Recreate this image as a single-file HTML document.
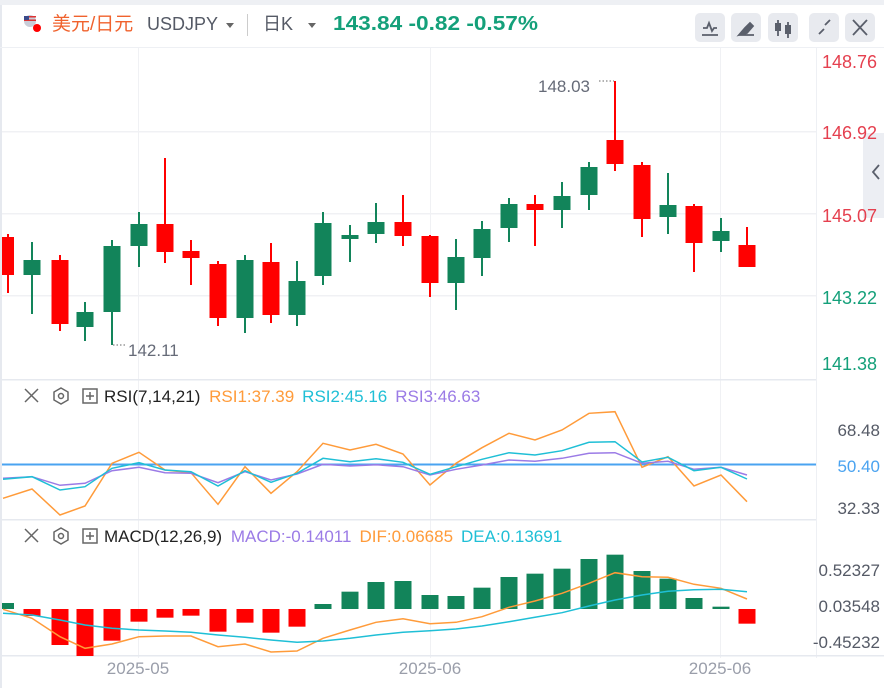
<!DOCTYPE html>
<html><head><meta charset="utf-8"><style>
html,body{margin:0;padding:0;background:#fff;width:884px;height:688px;overflow:hidden;font-family:"Liberation Sans","Noto Sans CJK SC",sans-serif}
svg{position:absolute;left:0;top:0}
</style></head><body>
<svg id="s" width="884" height="688" xmlns="http://www.w3.org/2000/svg" font-family="Liberation Sans, Noto Sans CJK SC, sans-serif">
<rect x="0" y="0" width="884" height="5" fill="#eef0f4"/>
<rect x="0" y="5" width="2" height="683" fill="#e6e9ef"/>
<!-- header -->
<circle cx="30" cy="21" r="6" fill="#c9cdd8"/><rect x="24" y="16" width="12" height="1.5" fill="#d33"/><rect x="24" y="19.5" width="12" height="1.5" fill="#d33"/><rect x="24" y="16" width="5" height="4" fill="#3a4a8a"/>
<circle cx="37" cy="28" r="4" fill="#f00"/>
<text x="52" y="30" font-size="19" fill="#f0622d">美元/日元</text>
<text x="147" y="30" font-size="18" fill="#555a66">USDJPY</text>
<path d="M226 23 L234 23 L230 28Z" fill="#666"/>
<rect x="247" y="14" width="1" height="22" fill="#ccc"/>
<text x="263" y="30" font-size="18" fill="#555a66">日K</text>
<path d="M308 23 L316 23 L312 28Z" fill="#666"/>
<text x="333" y="30" font-size="20" font-weight="bold" fill="#14a07a" textLength="205" lengthAdjust="spacingAndGlyphs">143.84  -0.82  -0.57%</text>
<g fill="#e8eaef">
<rect x="695" y="13" width="30" height="29" rx="5"/><rect x="731" y="13" width="30" height="29" rx="5"/><rect x="768" y="13" width="30" height="29" rx="5"/><rect x="809" y="13" width="30" height="29" rx="5"/><rect x="845" y="13" width="30" height="29" rx="5"/>
</g>
<g stroke="#5a5f6b" stroke-width="1.8" fill="none">
<path d="M702 35 H718 M703 28 L707 28 L709 23 L712 31 L714 28 L717 28"/>
<path d="M739 35 L745 28 L750 23 L753 26 L747 33 Z M739 35 H754" fill="#5a5f6b"/>
<path d="M778 20 V36 M788 22 V38"/>
<path d="M819 34 L824 29 M830 20 L825 25"/>
<path d="M853 20 L867 35 M867 20 L853 35"/>
</g>
<rect x="775" y="23" width="6" height="8" fill="#5a5f6b"/><rect x="785" y="25" width="6" height="9" fill="#5a5f6b"/>
<rect x="0" y="47" width="884" height="1" fill="#eef0f4"/>
<g id="g"></g>
</svg>
<script>
var g=document.getElementById('g'),h='';
function R(x,y,w,hh,c){h+='<rect x="'+x+'" y="'+y+'" width="'+w+'" height="'+hh+'" fill="'+c+'"/>';}
function T(x,y,t,c,s,a){h+='<text x="'+x+'" y="'+y+'" font-size="'+(s||16)+'" fill="'+c+'"'+(a?' text-anchor="'+a+'"':'')+'>'+t+'</text>';}
[131,213,295].forEach(function(y){R(2,y,814,1.5,'#f0f1f4');});
[138,430,720].forEach(function(x){R(x,48,1,610,'#f0f1f4');});
R(816,48,1,610,'#eef0f4');
R(0,379,816,1.5,'#e6e9ef');R(0,519,816,1.5,'#e6e9ef');R(0,655,884,1.5,'#e6e9ef');
var xs=[8,32,60,85,112,139,165,191,218,245,271,297,323,350,376,403,430,456,482,509,535,562,589,615,642,668,694,721,747];
var cd=[['r',237,275,234,293],['g',260,275,242,314],['r',260,324,255,331],['g',312,327,302,341],['g',246,312,240,345],['g',224,246,212,267],['r',224,252,158,263],['r',251,258,240,285],['r',264,318,261,326],['g',260,318,255,333],['r',262,315,243,323],['g',281,315,261,326],['g',223,276,212,285],['g',235,239,225,262],['g',222,234,203,243],['r',222,236,195,246],['r',236,283,235,297],['g',257,283,239,310],['g',229,258,221,276],['g',204,228,198,242],['r',204,210,195,246],['g',196,210,182,228],['g',167,195,162,210],['r',140,164,81,171],['r',165,219,162,237],['g',205,217,173,234],['r',206,243,204,272],['g',231,241,218,252],['r',245,267,227,267]];
cd.forEach(function(c,i){var x=xs[i],col=c[0]=='r'?'#ff0000':'#12845a';R(x-1,c[3],2,c[4]-c[3],col);var l=x-8.5,w=17;if(i==0){l=2;w=12;}R(l,c[1],w,Math.max(2,c[2]-c[1]),col);});
T(128,356,'142.11','#666b78',17);h+='<path d="M113 345 H127" stroke="#666" stroke-dasharray="1.5,2"/>';
T(538,92,'148.03','#666b78',17);h+='<path d="M599 81 H614" stroke="#666" stroke-dasharray="1.5,2"/>';
R(863,133,21,85,'#eceef3');h+='<path d="M879 165 L873 172 L879 179" stroke="#5a5f6b" stroke-width="1.8" fill="none"/>';
T(822,68,'148.76','#e5404f',18);T(822,139,'146.92','#e5404f',18);T(822,222,'145.07','#e5404f',18);T(822,304,'143.22','#14a07a',18);T(822,370,'141.38','#14a07a',18);
function hdr(y){h+='<path d="M25 '+(y-7)+' L38 '+(y+6)+' M38 '+(y-7)+' L25 '+(y+6)+'" stroke="#666" stroke-width="1.5"/>';
h+='<path d="M61 '+(y-8)+' L68 '+(y-4)+' L68 '+(y+4)+' L61 '+(y+8)+' L54 '+(y+4)+' L54 '+(y-4)+'Z" stroke="#666" stroke-width="1.5" fill="none"/><circle cx="61" cy="'+y+'" r="2.5" stroke="#666" stroke-width="1.5" fill="none"/>';
h+='<rect x="83" y="'+(y-7)+'" width="14" height="14" stroke="#666" stroke-width="1.5" fill="none"/><path d="M86 '+y+' H94 M90 '+(y-4)+' V'+(y+4)+'" stroke="#666" stroke-width="1.5"/>';}
hdr(396);hdr(536);
h+='<text x="104" y="402" font-size="17" fill="#222">RSI(7,14,21) <tspan dx="4" fill="#ff9b3a">RSI1:37.39</tspan><tspan dx="8" fill="#1fbfd6">RSI2:45.16</tspan><tspan dx="8" fill="#9b7be6">RSI3:46.63</tspan></text>';
h+='<text x="104" y="542" font-size="17" fill="#222">MACD(12,26,9) <tspan dx="4" fill="#9b7be6">MACD:-0.14011</tspan><tspan dx="8" fill="#ff9b3a">DIF:0.06685</tspan><tspan dx="8" fill="#1fbfd6">DEA:0.13691</tspan></text>';
R(2,463.5,814,2,'#4aa3f0');
T(880,436,'68.48','#555a66',17,'end');T(880,472,'50.40','#4aa3f0',17,'end');T(880,514,'32.33','#555a66',17,'end');
function line(arr,base,col,w){var p=arr.map(function(v,i){return (i?'L':'M')+xs[i]+' '+(base+v/3).toFixed(1);}).join(' ');h+='<path d="'+p+'" stroke="'+col+'" stroke-width="'+(w||1.5)+'" fill="none"/>';}
var r1=[355,327,405,378,250,217,270,278,373,260,340,275,190,210,193,222,315,250,203,160,180,150,100,95,262,230,318,285,365];
var r2=[298,290,330,320,265,248,270,275,318,272,307,280,235,245,236,247,283,260,238,218,225,212,187,185,246,232,272,262,297];
var r3=[295,290,316,310,272,262,278,280,308,275,300,282,253,258,254,260,285,268,255,240,244,235,220,218,250,244,268,262,285];
xs[0]=3;
line(r1,380,'#ff9b3a');line(r3,380,'#9b7be6');line(r2,380,'#1fbfd6');
xs[0]=8;
var mb=[['g',249],['r',288],['r',375],['r',408],['r',362],['r',305],['r',293],['r',287],['r',335],['r',308],['r',338],['r',320],['g',252],['g',215],['g',186],['g',183],['g',225],['g',228],['g',203],['g',171],['g',161],['g',146],['g',117],['g',104],['g',153],['g',176],['g',234],['g',260],['r',311]];
mb.forEach(function(b,i){var y0=520+267/3,y1=520+b[1]/3,x=xs[i]-8.5,w=17;if(i==0){x=2;w=12;}R(x,Math.min(y0,y1),w,Math.max(1.5,Math.abs(y1-y0)),b[0]=='r'?'#ff0000':'#12845a');});
var dif=[268,295,350,385,372,350,348,348,380,372,396,393,355,330,307,296,311,307,290,262,243,220,190,158,170,172,193,205,237];
var dea=[280,285,300,315,325,330,333,337,345,352,360,367,363,355,345,337,332,327,318,305,292,278,258,240,225,214,209,208,215];
xs[0]=3;
line(dif,520,'#ff9b3a');line(dea,520,'#1fbfd6');
T(880,576,'0.52327','#555a66',17,'end');T(880,612,'0.03548','#555a66',17,'end');T(880,648,'-0.45232','#555a66',17,'end');
T(138,674,'2025-05','#9a9eaa',17,'middle');T(430,674,'2025-06','#9a9eaa',17,'middle');T(720,674,'2025-06','#9a9eaa',17,'middle');
g.innerHTML=h;
</script>
</body></html>
